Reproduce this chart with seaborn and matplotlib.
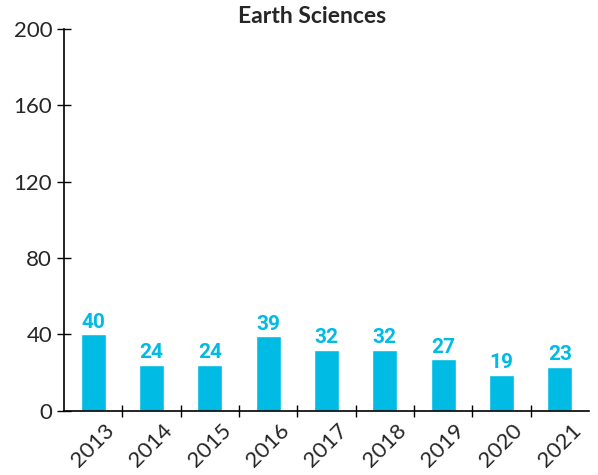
import numpy as np
import pandas as pd
import seaborn as sns
import matplotlib.pyplot as plt
import matplotlib.transforms as mtransforms

# Data
years = ["2013", "2014", "2015", "2016", "2017", "2018", "2019", "2020", "2021"]
counts = [40, 24, 24, 39, 32, 32, 27, 19, 23]
y_ticks = [0, 40, 80, 120, 160, 200]

bar_color = "#00BCE4"

sns.set_style("ticks")
plt.rcParams["font.family"] = ["Lato", "DejaVu Sans"]

df = pd.DataFrame({"year": years, "count": counts})

fig = plt.figure(figsize=(5.98, 4.75), dpi=100)
ax = fig.add_axes([0.107, 0.135, 0.878, 0.804])

sns.barplot(data=df, x="year", y="count", color=bar_color, width=0.43,
            saturation=1, ax=ax)

# value labels above bars
for c in ax.containers:
    ax.bar_label(c, padding=2, color=bar_color, fontsize=15,
                 fontweight="bold", family=["Roboto", "DejaVu Sans"])

ax.set_xlim(-0.5, len(years) - 0.5)
ax.set_ylim(0, 200)
ax.set_yticks(y_ticks)
ax.set_xlabel("")
ax.set_ylabel("")
ax.set_title("Earth Sciences", fontsize=16.5, fontweight="bold", pad=4,
             x=(312 - 64) / 525)

# ticks between the categories only
ax.set_xticks(np.arange(len(years)))
ax.set_xticks(np.arange(0.5, len(years) - 1, 1), minor=True)
ax.tick_params(axis="x", which="major", length=0, pad=7, labelsize=16)
ax.tick_params(axis="x", which="minor", length=8, direction="inout", width=1, color="black")
ax.tick_params(axis="y", length=10, direction="inout", width=1, color="black", labelsize=16)

for lab in ax.get_xticklabels():
    lab.set_rotation(45)
    lab.set_ha("right")
    lab.set_rotation_mode("anchor")
    lab.set_transform(lab.get_transform() + mtransforms.ScaledTranslation(0.11, 0, fig.dpi_scale_trans))

sns.despine(ax=ax)
for s in ["left", "bottom"]:
    ax.spines[s].set_linewidth(1.2)
    ax.spines[s].set_color("black")

fig.savefig("out.png", dpi=100)
